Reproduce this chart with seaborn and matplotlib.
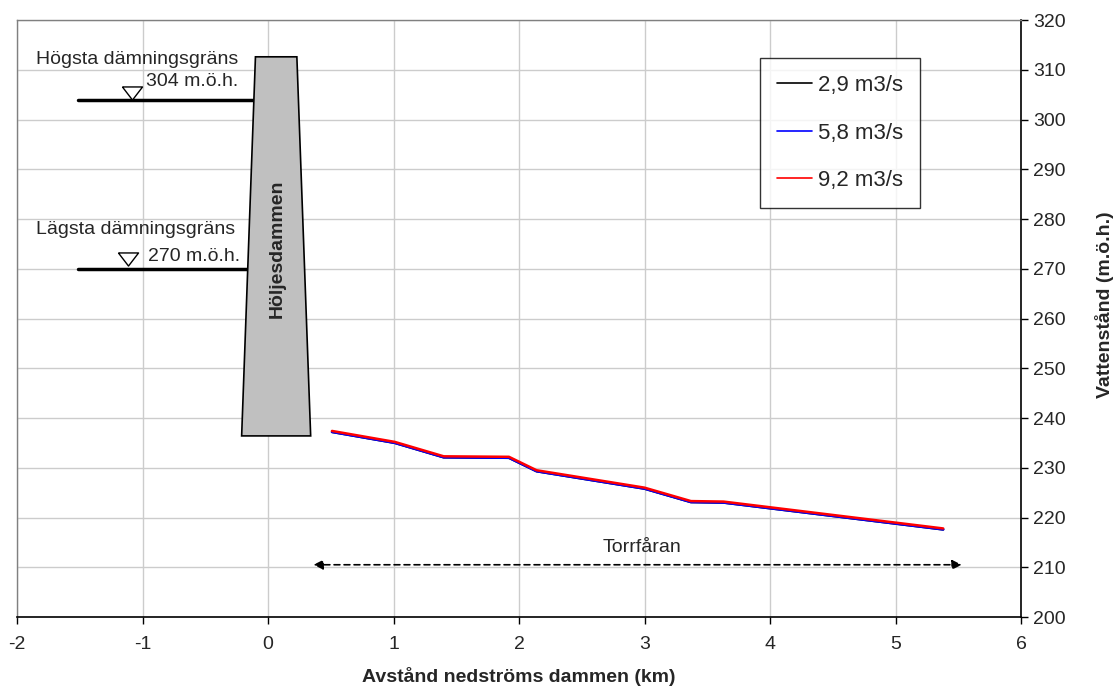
import numpy as np
import pandas as pd
import seaborn as sns
import matplotlib.pyplot as plt

# Distance downstream of the dam (km) and water level (m.o.h.)
distance_km = [0.51, 1.01, 1.40, 1.92, 2.14, 3.00, 3.37, 3.63, 5.38]
level_29 = [237.2, 235.0, 232.1, 232.0, 229.3, 225.8, 223.1, 223.0, 217.6]
level_58 = [237.2, 235.0, 232.1, 232.0, 229.3, 225.8, 223.1, 223.0, 217.6]
level_92 = [237.4, 235.2, 232.3, 232.2, 229.5, 226.0, 223.3, 223.2, 217.8]
flow_labels = ['2,9 m3/s', '5,8 m3/s', '9,2 m3/s']
flow_colors = ['black', '#0000ff', '#ff0000']

x_ticks = [-2, -1, 0, 1, 2, 3, 4, 5, 6]
y_ticks = [200, 210, 220, 230, 240, 250, 260, 270, 280, 290, 300, 310, 320]

# dam outline and reservoir limits
dam_x = [-0.10, 0.23, 0.34, -0.21]
dam_y = [312.6, 312.6, 236.4, 236.4]
hogsta = 304
lagsta = 270

df = pd.DataFrame({
    'dist': distance_km * 3,
    'level': level_29 + level_58 + level_92,
    'flow': [f for f in flow_labels for _ in distance_km],
})

sns.set_theme(style='white')
plt.rcParams['font.family'] = ['Liberation Sans', 'DejaVu Sans']

fig = plt.figure(figsize=(11.15, 6.89), dpi=100)
ax = fig.add_axes([17 / 1115, 1 - 617 / 689, 1004 / 1115, 597 / 689])

sns.lineplot(data=df, x='dist', y='level', hue='flow', palette=flow_colors,
             hue_order=flow_labels, linewidth=1.8, ax=ax, zorder=5)

ax.set_xlim(-2, 6)
ax.set_ylim(200, 320)
ax.set_xticks(x_ticks)
ax.set_yticks(y_ticks)
ax.grid(True, color='#cccccc', linewidth=1)
ax.set_axisbelow(True)

# y axis on the right side
ax.yaxis.tick_right()
ax.yaxis.set_label_position('right')
ax.tick_params(axis='both', labelsize=14, length=5, width=1, color='black',
               direction='out', pad=4)
ax.tick_params(axis='x', bottom=True, pad=9)
ax.tick_params(axis='y', right=True, left=False)
ax.set_xlabel('Avstånd nedströms dammen (km)', fontsize=14, fontweight='bold')
ax.set_ylabel('Vattenstånd (m.ö.h.)', fontsize=14, fontweight='bold')
ax.xaxis.set_label_coords(0.5, -0.084)
ax.yaxis.set_label_coords(1.0737, 0.523)
ax.set_xticklabels(['-2', '-1', '0', '1', '2', '3', '4', '5', '6'])

for side in ['top', 'left']:
    ax.spines[side].set_color('#808080')
    ax.spines[side].set_linewidth(1)
for side in ['bottom', 'right']:
    ax.spines[side].set_color('black')
    ax.spines[side].set_linewidth(1.2)

# dam body
ax.fill(dam_x, dam_y, facecolor='#c0c0c0', edgecolor='black', linewidth=1.2, zorder=4)
ax.text(0.07, 274, 'Höljesdammen', rotation=90, ha='center', va='center',
        fontsize=14, fontweight='bold', zorder=6)

# reservoir levels
ax.plot([-1.51, -0.11], [hogsta, hogsta], color='black', linewidth=2.5, zorder=3)
ax.plot([-1.51, -0.15], [lagsta, lagsta], color='black', linewidth=2.5, zorder=3)
ax.text(-1.85, 312, 'Högsta dämningsgräns', fontsize=14, va='center', ha='left')
ax.text(-1.85, 277.8, 'Lägsta dämningsgräns', fontsize=14, va='center', ha='left')
tri = [(-1, 0.65), (1, 0.65), (0, -0.65), (-1, 0.65)]
ax.scatter([-1.08, -1.113], [hogsta + 1.3, lagsta + 1.9], marker=tri, s=210,
           facecolor='white', edgecolor='black', linewidth=1, zorder=6)
ax.text(-0.97, 307.7, f'{hogsta} m.ö.h.', fontsize=14, va='center', ha='left')
ax.text(-0.96, 272.4, f'{lagsta} m.ö.h.', fontsize=14, va='center', ha='left')

# dry river stretch
ax.annotate('', xy=(0.34, 210.5), xytext=(5.55, 210.5),
            arrowprops=dict(arrowstyle='<|-|>', linestyle=(0, (3.5, 2.5)),
                            color='black', linewidth=1.2, mutation_scale=14))
ax.text(2.98, 213.9, 'Torrfåran', fontsize=14, ha='center', va='center')

leg = ax.legend(loc='upper left', bbox_to_anchor=(0.74, 0.936), fontsize=16,
                frameon=True, fancybox=False, edgecolor='black',
                handlelength=1.6, handletextpad=0.25, labelspacing=1.2,
                borderpad=0.75, borderaxespad=0)
leg.get_frame().set_linewidth(1)
for line in leg.get_lines():
    line.set_linewidth(1.2)

fig.savefig('out.png', dpi=100)
